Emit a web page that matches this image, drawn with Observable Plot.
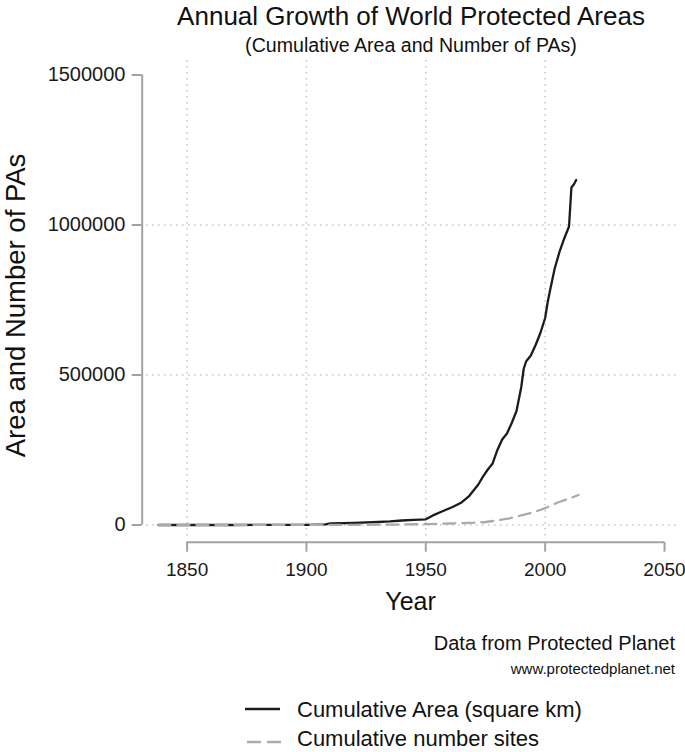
<!DOCTYPE html>
<html>
<head>
<meta charset="utf-8">
<script src="https://cdn.jsdelivr.net/npm/d3@7"></script>
<script src="https://cdn.jsdelivr.net/npm/@observablehq/plot@0.6"></script>
<style>
  html, body { margin: 0; padding: 0; background: #fff; }
  #wrap { position: relative; width: 685px; height: 752px; overflow: hidden;
          font-family: "Liberation Sans", Arial, sans-serif; color: #111; }
  .t { position: absolute; line-height: 1; white-space: nowrap; }
  #chart { position: absolute; left: 0; top: 58px; }
</style>
</head>
<body>
<div id="wrap">
  <div class="t" id="title" style="left:411px; top:3px; font-size:26px; transform:translateX(-50%);">Annual Growth of World Protected Areas</div>
  <div class="t" id="subtitle" style="left:411px; top:36px; font-size:19.6px; transform:translateX(-50%);">(Cumulative Area and Number of PAs)</div>
  <div id="chart"></div>
  <div class="t" style="right:10px; top:633px; font-size:20px;">Data from Protected Planet</div>
  <div class="t" style="right:10px; top:661px; font-size:15px;">www.protectedplanet.net</div>
  <svg style="position:absolute; left:0; top:0;" width="685" height="752" id="legendSwatch"></svg>
  <div class="t" style="left:297px; top:699px; font-size:22px;">Cumulative Area (square km)</div>
  <div class="t" style="left:297px; top:728px; font-size:22px;">Cumulative number sites</div>
</div>
<script>
// ---- data ----
const areaYears  = [1838, 1850, 1870, 1900, 1908, 1910, 1920, 1930, 1935, 1940, 1945, 1950, 1953, 1957, 1961, 1965, 1968, 1970, 1972, 1974, 1976, 1978, 1980, 1982, 1984, 1986, 1988, 1989, 1990, 1991, 1992, 1994, 1996, 1998, 2000, 2001, 2002, 2004, 2006, 2008, 2010, 2011, 2012, 2013];
const areaValues = [0, 0, 0, 500, 2000, 5000, 7000, 10000, 12000, 15000, 17000, 19000, 32000, 46000, 59000, 75000, 95000, 115000, 135000, 162000, 185000, 205000, 250000, 285000, 305000, 340000, 380000, 420000, 460000, 520000, 545000, 565000, 600000, 640000, 690000, 740000, 780000, 855000, 910000, 955000, 995000, 1125000, 1135000, 1150000];

const siteYears  = [1838, 1900, 1920, 1940, 1950, 1960, 1970, 1975, 1980, 1985, 1990, 1995, 2000, 2005, 2010, 2014];
const siteValues = [0, 200, 500, 1500, 3000, 5000, 7500, 10000, 15000, 22000, 32000, 42000, 56000, 74000, 88000, 100000];

const xTicks = [1850, 1900, 1950, 2000, 2050];
const xGrid  = [1850, 1900, 1950, 2000];
const yTicks = [0, 500000, 1000000, 1500000];
const yGrid  = [0, 500000, 1000000];

const seriesNames = ["Cumulative Area (square km)", "Cumulative number sites"];

// ---- build tables ----
const areaData = areaYears.map((y, i) => ({year: y, value: areaValues[i]}));
const siteData = siteYears.map((y, i) => ({year: y, value: siteValues[i]}));

const xDomain = [1833.0, 2056.7];
const yDomain = [-41700, 1548300];
const axisGrey = "#a3a3a3";
const gridStyle = {stroke: "#c4c4c4", strokeOpacity: 1, strokeWidth: 1.5, strokeDasharray: "1.5,4.5"};
const font = "Liberation Sans, Arial, sans-serif";

const chart = Plot.plot({
  width: 685,
  height: 562,
  marginLeft: 146,
  marginRight: 5,
  marginTop: 2,
  marginBottom: 83,
  style: {fontFamily: font, background: "transparent", overflow: "visible", color: "#1a1a1a"},
  x: {domain: xDomain},
  y: {domain: yDomain},
  marks: [
    Plot.gridX(xGrid, gridStyle),
    Plot.gridY(yGrid, gridStyle),
    Plot.ruleX([xDomain[0]], {y1: yTicks[0], y2: yTicks[yTicks.length - 1], dx: -4.3, stroke: axisGrey, strokeWidth: 2}),
    Plot.ruleY([yDomain[0]], {x1: xTicks[0], x2: xTicks[xTicks.length - 1], dy: 4.7, stroke: axisGrey, strokeWidth: 2}),
    Plot.axisY(yTicks, {anchor: "left", label: null, tickSize: 10, tickPadding: 6.7, dx: -4.3,
      tickFormat: d3.format("d"), fontSize: 20, stroke: axisGrey, strokeWidth: 2, fill: "#1a1a1a"}),
    Plot.axisX(xTicks, {anchor: "bottom", label: null, tickSize: 10, tickPadding: 10, dy: 4.7,
      tickFormat: d3.format("d"), fontSize: 19, stroke: axisGrey, strokeWidth: 2, fill: "#1a1a1a"}),
    Plot.line(areaData, {x: "year", y: "value", stroke: "#1c1c1c", strokeWidth: 2.3}),
    Plot.line(siteData, {x: "year", y: "value", stroke: "#ababab", strokeWidth: 2.3, strokeDasharray: "12,7"}),
    Plot.text(["Year"], {text: d => d, frameAnchor: "bottom", textAnchor: "middle", lineAnchor: "middle",
      dx: -3, dy: 64, fontSize: 25, fill: "#111"}),
    Plot.text(["Area and Number of PAs"], {text: d => d, frameAnchor: "left", textAnchor: "middle", lineAnchor: "middle",
      rotate: -90, dx: -130, dy: 6.5, fontSize: 27.5, fill: "#111"})
  ]
});
document.getElementById("chart").appendChild(chart);

// legend swatches
const sw = d3.select("#legendSwatch");
sw.append("line").attr("x1", 245).attr("x2", 280).attr("y1", 709).attr("y2", 709)
  .attr("stroke", "#1c1c1c").attr("stroke-width", 2.3);
sw.append("line").attr("x1", 247).attr("x2", 281).attr("y1", 742).attr("y2", 742)
  .attr("stroke", "#ababab").attr("stroke-width", 2.3).attr("stroke-dasharray", "14,6");
</script>
</body>
</html>
